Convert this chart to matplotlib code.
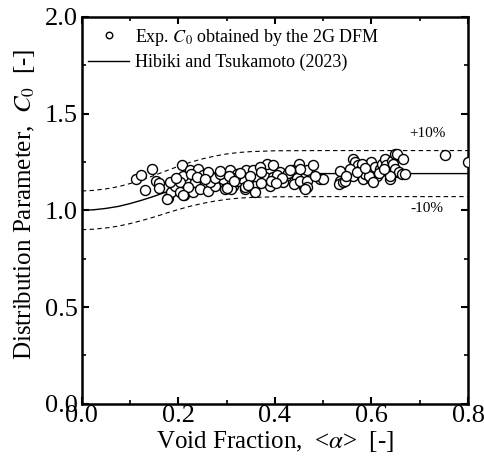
import numpy as np
import matplotlib
matplotlib.use("Agg")
from matplotlib import pyplot as plt
from matplotlib.ticker import MultipleLocator

plt.rcParams['font.family'] = ['Liberation Serif', 'DejaVu Serif']
plt.rcParams['mathtext.fontset'] = 'stix'

alpha_exp = [0.112, 0.122, 0.146, 0.131, 0.153, 0.160, 0.160, 0.179, 0.184, 0.186,
             0.193, 0.207, 0.210, 0.203, 0.212, 0.203, 0.224, 0.241, 0.234, 0.231,
             0.248, 0.255, 0.245, 0.262, 0.269, 0.276, 0.265, 0.220, 0.296, 0.307,
             0.293, 0.313, 0.321, 0.324, 0.338, 0.341, 0.334, 0.310, 0.383, 0.397,
             0.450, 0.355, 0.369, 0.411, 0.435, 0.466, 0.276, 0.317, 0.362, 0.380,
             0.397, 0.424, 0.446, 0.300, 0.338, 0.359, 0.359, 0.390, 0.417, 0.440,
             0.460, 0.453, 0.479, 0.452, 0.466, 0.466, 0.462, 0.493, 0.500, 0.535,
             0.535, 0.533, 0.542, 0.562, 0.562, 0.566, 0.573, 0.576, 0.583, 0.590,
             0.597, 0.600, 0.608, 0.611, 0.618, 0.621, 0.628, 0.631, 0.635, 0.638,
             0.642, 0.649, 0.652, 0.587, 0.600, 0.580, 0.652, 0.666, 0.645, 0.649,
             0.656, 0.663, 0.669, 0.638, 0.752, 0.799, 0.182, 0.177, 0.210, 0.227,
             0.251, 0.286, 0.305, 0.328, 0.348, 0.372, 0.405, 0.428, 0.372, 0.392,
             0.415, 0.345, 0.287, 0.262, 0.238, 0.195, 0.482, 0.545, 0.556, 0.570,
             0.594, 0.615, 0.625, 0.604, 0.548, 0.586, 0.255, 0.315, 0.402, 0.432]
c0_exp = [1.163, 1.183, 1.214, 1.106, 1.154, 1.142, 1.116, 1.063, 1.094, 1.146,
          1.125, 1.232, 1.180, 1.146, 1.080, 1.094, 1.206, 1.214, 1.146, 1.094,
          1.172, 1.137, 1.111, 1.102, 1.172, 1.128, 1.146, 1.120, 1.111, 1.206,
          1.163, 1.128, 1.189, 1.154, 1.111, 1.206, 1.163, 1.108, 1.240, 1.235,
          1.240, 1.206, 1.223, 1.197, 1.206, 1.206, 1.166, 1.166, 1.163, 1.172,
          1.172, 1.180, 1.166, 1.115, 1.120, 1.128, 1.094, 1.128, 1.146, 1.137,
          1.120, 1.154, 1.232, 1.215, 1.154, 1.120, 1.111, 1.163, 1.163, 1.202,
          1.154, 1.137, 1.146, 1.180, 1.266, 1.249, 1.232, 1.206, 1.163, 1.232,
          1.206, 1.249, 1.223, 1.180, 1.214, 1.240, 1.266, 1.232, 1.197, 1.163,
          1.254, 1.292, 1.197, 1.189, 1.163, 1.240, 1.292, 1.266, 1.240, 1.214,
          1.197, 1.189, 1.189, 1.178, 1.287, 1.252, 1.149, 1.059, 1.077, 1.190,
          1.185, 1.190, 1.175, 1.195, 1.180, 1.200, 1.185, 1.195, 1.140, 1.150,
          1.165, 1.130, 1.205, 1.200, 1.170, 1.165, 1.175, 1.150, 1.215, 1.200,
          1.175, 1.195, 1.215, 1.145, 1.175, 1.220, 1.160, 1.150, 1.140, 1.210]

# Hibiki and Tsukamoto (2023) correlation
alpha_corr = [0.0, 0.025, 0.05, 0.075, 0.1, 0.125, 0.15, 0.175, 0.2, 0.225,
              0.25, 0.275, 0.3, 0.325, 0.35, 0.4, 0.5, 0.6, 0.7, 0.8]
c0_corr = [1.0, 1.003, 1.01, 1.02, 1.035, 1.053, 1.073, 1.095, 1.116, 1.135,
           1.151, 1.164, 1.174, 1.181, 1.185, 1.189, 1.19, 1.19, 1.19, 1.19]

alpha_corr = np.array(alpha_corr)
c0_corr = np.array(c0_corr)

fig = plt.figure(figsize=(4.84, 4.69), dpi=100)
ax = fig.add_axes([0.169, 0.139, 0.798, 0.825])

ax.plot(alpha_exp, c0_exp, 'o', mfc='white', mec='black', mew=1.0, ms=7.2,
        label=r'Exp. $C_0$ obtained by the 2G DFM', zorder=3)
ax.plot(alpha_corr, c0_corr, '-', color='black', lw=1.0,
        label='Hibiki and Tsukamoto (2023)', zorder=2)
ax.plot(alpha_corr, c0_corr * 1.1, '--', color='black', lw=0.8, dashes=(4, 3))
ax.plot(alpha_corr, c0_corr * 0.9, '--', color='black', lw=0.8, dashes=(4, 3))

ax.text(0.717, 1.395, '+10%', fontsize=11, ha='center', va='center')
ax.text(0.714, 1.008, '-10%', fontsize=11, ha='center', va='center')

ax.set_xlim(0, 0.8)
ax.set_ylim(0, 2.0)
ax.xaxis.set_major_locator(MultipleLocator(0.2))
ax.xaxis.set_minor_locator(MultipleLocator(0.1))
ax.yaxis.set_major_locator(MultipleLocator(0.5))
ax.yaxis.set_minor_locator(MultipleLocator(0.25))
ax.xaxis.set_major_formatter(plt.FormatStrFormatter('%.1f'))
ax.yaxis.set_major_formatter(plt.FormatStrFormatter('%.1f'))
ax.tick_params(which='both', direction='in', top=True, right=True, labelsize=19)
ax.tick_params(which='major', length=5, width=1.5)
ax.tick_params(which='minor', length=3, width=1.2)
ax.tick_params(axis='x', pad=1)
ax.tick_params(axis='y', pad=3)
for s in ax.spines.values():
    s.set_linewidth(1.8)

ax.set_xlabel('Void Fraction,  <$\\alpha$>  [-]', fontsize=18, labelpad=1)
ax.set_ylabel(r'Distribution Parameter,  $C_0$  [-]', fontsize=18, labelpad=1)
ax.yaxis.set_label_coords(-0.115, 0.515)

ax.legend(loc='upper left', frameon=False, fontsize=13, handlelength=2.3,
          borderaxespad=0.0, handletextpad=0.3, labelspacing=0.35,
          markerscale=0.65, bbox_to_anchor=(-0.003, 0.993))

fig.savefig('out.png', dpi=100)
